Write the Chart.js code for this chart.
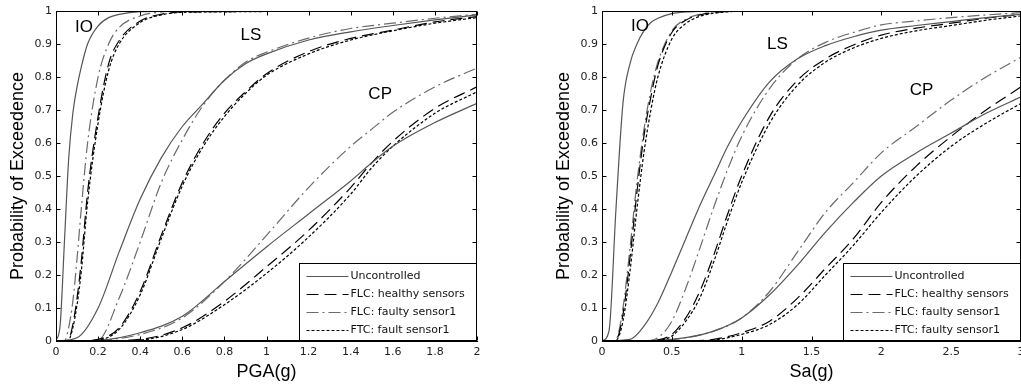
<!DOCTYPE html>
<html>
<head>
<meta charset="utf-8">
<script src="https://cdn.jsdelivr.net/npm/chart.js@4.4.1/dist/chart.umd.min.js"></script>
<style>
  html, body { margin: 0; padding: 0; background: #fff; overflow: hidden; }
  #wrap { position: relative; width: 1021px; height: 388px; overflow: hidden; }
  #pgaChart { position: absolute; left: 0; top: 0; }
  #saChart { position: absolute; left: 510px; top: 0; }
</style>
</head>
<body>
<div id="wrap">
  <canvas id="pgaChart" width="510" height="388"></canvas>
  <canvas id="saChart" width="530" height="388"></canvas>
</div>
<script>
// axis ticks
const probTicks = [0, 0.1, 0.2, 0.3, 0.4, 0.5, 0.6, 0.7, 0.8, 0.9, 1];
const pgaTicks = [0, 0.2, 0.4, 0.6, 0.8, 1, 1.2, 1.4, 1.6, 1.8, 2];
const saTicks = [0, 0.5, 1, 1.5, 2, 2.5, 3];

const pgaLegend = ["Uncontrolled", "FLC: healthy sensors", "FLC: faulty sensor1", "FTC: fault sensor1"];
const saLegend = ["Uncontrolled", "FLC: healthy sensors", "FLC: faulty sensor1", "FTC: faulty sensor1"];

const noteText = ["IO", "LS", "CP"];
const pgaNoteX = [0.133, 0.926, 1.54];
const pgaNoteY = [0.95, 0.927, 0.749];
const saNoteX = [0.272, 1.256, 2.288];
const saNoteY = [0.953, 0.9, 0.76];

// ---- PGA(g) fragility curves ----
const pgaIO = [0, 0.02, 0.04, 0.06, 0.08, 0.1, 0.12, 0.15, 0.2, 0.25, 0.3, 0.4, 0.5, 0.6, 2];
const pgaIOUnc = [0, 0.05, 0.3, 0.55, 0.69, 0.77, 0.83, 0.9, 0.955, 0.98, 0.99, 0.998, 0.999, 1, 1];
const pgaIOHealthy = [0, 0, 0, 0.005, 0.05, 0.13, 0.24, 0.45, 0.68, 0.84, 0.91, 0.97, 0.99, 0.997, 1];
const pgaIOFaulty = [0, 0, 0, 0.04, 0.12, 0.25, 0.4, 0.6, 0.8, 0.9, 0.95, 0.985, 0.997, 1, 1];
const pgaIOFtc = [0, 0, 0, 0.003, 0.04, 0.11, 0.21, 0.42, 0.66, 0.82, 0.9, 0.965, 0.988, 0.996, 1];

const pgaLS = [0, 0.1, 0.2, 0.3, 0.4, 0.5, 0.6, 0.7, 0.8, 0.9, 1, 1.2, 1.4, 1.6, 1.8, 2];
const pgaLSUnc = [0, 0.01, 0.1, 0.27, 0.43, 0.555, 0.65, 0.72, 0.79, 0.84, 0.87, 0.912, 0.937, 0.956, 0.973, 0.988];
const pgaLSHealthy = [0, 0, 0.005, 0.04, 0.15, 0.32, 0.48, 0.6, 0.69, 0.755, 0.81, 0.877, 0.917, 0.942, 0.967, 0.983];
const pgaLSFaulty = [0, 0, 0.003, 0.13, 0.3, 0.48, 0.61, 0.715, 0.79, 0.845, 0.875, 0.918, 0.947, 0.963, 0.978, 0.99];
const pgaLSFtc = [0, 0, 0.003, 0.035, 0.14, 0.31, 0.47, 0.59, 0.68, 0.75, 0.805, 0.87, 0.912, 0.94, 0.963, 0.98];

const pgaCP = [0, 0.2, 0.4, 0.6, 0.8, 1, 1.2, 1.4, 1.5, 1.6, 1.8, 2];
const pgaCPUnc = [0, 0.002, 0.025, 0.075, 0.18, 0.285, 0.385, 0.485, 0.54, 0.59, 0.662, 0.72];
const pgaCPHealthy = [0, 0, 0.005, 0.04, 0.12, 0.225, 0.335, 0.465, 0.54, 0.605, 0.705, 0.77];
const pgaCPFaulty = [0, 0.002, 0.02, 0.07, 0.18, 0.32, 0.465, 0.59, 0.642, 0.693, 0.77, 0.827];
const pgaCPFtc = [0, 0, 0.003, 0.035, 0.11, 0.205, 0.315, 0.445, 0.525, 0.59, 0.69, 0.755];

// ---- Sa(g) fragility curves ----
const saIO = [0, 0.05, 0.1, 0.15, 0.2, 0.25, 0.3, 0.35, 0.4, 0.5, 0.6, 0.7, 0.8, 1, 3];
const saIOUnc = [0, 0.03, 0.4, 0.72, 0.84, 0.9, 0.94, 0.965, 0.978, 0.992, 0.997, 0.999, 1, 1, 1];
const saIOHealthy = [0, 0, 0.003, 0.08, 0.25, 0.45, 0.62, 0.74, 0.835, 0.935, 0.972, 0.988, 0.995, 1, 1];
const saIOFaulty = [0, 0, 0.005, 0.1, 0.28, 0.48, 0.64, 0.76, 0.845, 0.94, 0.975, 0.99, 0.997, 1, 1];
const saIOFtc = [0, 0, 0.002, 0.06, 0.21, 0.4, 0.57, 0.7, 0.8, 0.915, 0.962, 0.984, 0.993, 0.999, 1];

const saLS = [0, 0.2, 0.3, 0.4, 0.5, 0.6, 0.7, 0.8, 0.9, 1, 1.2, 1.4, 1.6, 1.8, 2, 2.25, 2.5, 2.75, 3];
const saLSUnc = [0, 0.005, 0.045, 0.115, 0.21, 0.31, 0.41, 0.5, 0.59, 0.665, 0.785, 0.855, 0.895, 0.922, 0.942, 0.956, 0.968, 0.98, 0.99];
const saLSHealthy = [0, 0, 0, 0.003, 0.02, 0.07, 0.15, 0.26, 0.385, 0.5, 0.68, 0.79, 0.855, 0.897, 0.927, 0.948, 0.963, 0.978, 0.99];
const saLSFaulty = [0, 0, 0, 0.01, 0.06, 0.16, 0.28, 0.405, 0.52, 0.62, 0.765, 0.855, 0.905, 0.935, 0.958, 0.97, 0.98, 0.988, 0.995];
const saLSFtc = [0, 0, 0, 0.002, 0.015, 0.06, 0.13, 0.24, 0.365, 0.48, 0.66, 0.775, 0.845, 0.888, 0.917, 0.94, 0.956, 0.972, 0.985];

const saCP = [0, 0.4, 0.6, 0.8, 1, 1.2, 1.4, 1.6, 1.8, 2, 2.25, 2.5, 2.75, 3];
const saCPUnc = [0, 0.002, 0.01, 0.03, 0.07, 0.14, 0.23, 0.33, 0.42, 0.5, 0.57, 0.63, 0.69, 0.74];
const saCPHealthy = [0, 0, 0, 0.005, 0.025, 0.06, 0.13, 0.22, 0.31, 0.42, 0.53, 0.62, 0.7, 0.77];
const saCPFaulty = [0, 0.002, 0.01, 0.03, 0.07, 0.15, 0.27, 0.39, 0.48, 0.57, 0.65, 0.73, 0.8, 0.86];
const saCPFtc = [0, 0, 0, 0.003, 0.02, 0.05, 0.11, 0.2, 0.29, 0.39, 0.5, 0.59, 0.66, 0.72];

// line styles: uncontrolled, FLC healthy, FLC faulty, FTC
const lineColor = ['#555555', '#000000', '#6a6a6a', '#000000'];
const lineDash = [[], [12, 6], [12, 4, 2, 4], [3, 2]];

const tickFont = { family: 'DejaVu Sans', size: 11 };
const titleFont = '18px "Liberation Sans", Arial, sans-serif';

function curve(xs, ys, k) {
    return {
        data: xs.map((x, i) => ({ x: x, y: ys[i] })),
        borderColor: lineColor[k],
        borderDash: lineDash[k],
        borderWidth: 1.2,
        pointRadius: 0,
        fill: false,
        cubicInterpolationMode: 'monotone'
    };
}

function framePlugin(o) {
    return {
        id: 'frame',
        afterDraw(chart) {
            const ctx = chart.ctx;
            const ca = chart.chartArea;
            const xs = chart.scales.x, ys = chart.scales.y;
            const L = Math.round(ca.left) + 0.5, R = Math.round(ca.right) - 0.5;
            const T = Math.round(ca.top) + 0.5, B = Math.round(ca.bottom) - 0.5;
            ctx.save();
            ctx.strokeStyle = '#000';
            ctx.lineWidth = 1;
            ctx.setLineDash([]);
            ctx.strokeRect(L, T, R - L, B - T);

            // inward ticks on all four sides
            ctx.beginPath();
            o.xTicks.forEach(v => {
                const px = Math.round(xs.getPixelForValue(v)) + 0.5;
                ctx.moveTo(px, B); ctx.lineTo(px, B - 4);
                ctx.moveTo(px, T); ctx.lineTo(px, T + 4);
            });
            probTicks.forEach(v => {
                const py = Math.round(ys.getPixelForValue(v)) + 0.5;
                ctx.moveTo(L, py); ctx.lineTo(L + 4, py);
                ctx.moveTo(R, py); ctx.lineTo(R - 4, py);
            });
            ctx.stroke();

            // damage state labels
            ctx.fillStyle = '#000';
            ctx.font = '17px "Liberation Sans", Arial, sans-serif';
            ctx.textAlign = 'center';
            ctx.textBaseline = 'middle';
            noteText.forEach((t, i) => {
                ctx.fillText(t, xs.getPixelForValue(o.noteX[i]), ys.getPixelForValue(o.noteY[i]));
            });

            // axis titles
            ctx.font = titleFont;
            ctx.fillText(o.xTitle, (ca.left + ca.right) / 2, ca.bottom + 31);
            ctx.save();
            ctx.translate(ca.left - 38, (ca.top + ca.bottom) / 2);
            ctx.rotate(-Math.PI / 2);
            ctx.fillText('Probability of Exceedence', 0, 0);
            ctx.restore();

            // legend box
            const bw = 177, bh = 77;
            const x0 = Math.round(ca.right) - bw - 0.5, y0 = Math.round(ca.bottom) - bh - 0.5;
            ctx.fillStyle = '#fff';
            ctx.fillRect(x0, y0, bw, bh);
            ctx.strokeStyle = '#000';
            ctx.strokeRect(x0, y0, bw, bh);
            ctx.font = '11px "DejaVu Sans", sans-serif';
            ctx.textAlign = 'left';
            const rows = [12, 30, 48, 66];
            o.legend.forEach((t, k) => {
                const y = Math.round(y0 + rows[k]) + 0.5;
                ctx.beginPath();
                ctx.strokeStyle = lineColor[k];
                ctx.setLineDash(lineDash[k]);
                ctx.moveTo(x0 + 7, y);
                ctx.lineTo(x0 + 49, y);
                ctx.stroke();
                ctx.fillStyle = '#111';
                ctx.fillText(t, x0 + 51, y);
            });
            ctx.restore();
        }
    };
}

function makeChart(id, o) {
    const ctx = document.getElementById(id).getContext('2d');
    return new Chart(ctx, {
        type: 'line',
        data: { datasets: o.datasets },
        options: {
            responsive: false,
            animation: false,
            layout: { padding: { left: 0, top: 11, right: o.padRight, bottom: 0 } },
            plugins: { legend: { display: false }, tooltip: { enabled: false } },
            scales: {
                x: {
                    type: 'linear',
                    min: 0,
                    max: o.xMax,
                    afterBuildTicks: s => { s.ticks = o.xTicks.map(v => ({ value: v })); },
                    afterFit: s => { s.height = 47; },
                    ticks: { callback: v => String(v), font: tickFont, color: '#222', padding: 5, maxRotation: 0, autoSkip: false },
                    grid: { display: true, drawOnChartArea: false, drawTicks: false },
                    border: { color: '#000' }
                },
                y: {
                    type: 'linear',
                    min: 0,
                    max: 1,
                    afterBuildTicks: s => { s.ticks = probTicks.map(v => ({ value: v })); },
                    afterFit: s => { s.width = o.yWidth; },
                    ticks: { callback: v => String(v), font: tickFont, color: '#222', padding: 4, autoSkip: false },
                    grid: { display: true, drawOnChartArea: false, drawTicks: false },
                    border: { color: '#000' }
                }
            }
        },
        plugins: [framePlugin(o)]
    });
}

makeChart('pgaChart', {
    xMax: 2, xTicks: pgaTicks, padRight: 33, yWidth: 56, xTitle: 'PGA(g)',
    legend: pgaLegend, noteX: pgaNoteX, noteY: pgaNoteY,
    datasets: [
        curve(pgaIO, pgaIOUnc, 0), curve(pgaIO, pgaIOHealthy, 1), curve(pgaIO, pgaIOFaulty, 2), curve(pgaIO, pgaIOFtc, 3),
        curve(pgaLS, pgaLSUnc, 0), curve(pgaLS, pgaLSHealthy, 1), curve(pgaLS, pgaLSFaulty, 2), curve(pgaLS, pgaLSFtc, 3),
        curve(pgaCP, pgaCPUnc, 0), curve(pgaCP, pgaCPHealthy, 1), curve(pgaCP, pgaCPFaulty, 2), curve(pgaCP, pgaCPFtc, 3)
    ]
});

makeChart('saChart', {
    xMax: 3, xTicks: saTicks, padRight: 19, yWidth: 92, xTitle: 'Sa(g)',
    legend: saLegend, noteX: saNoteX, noteY: saNoteY,
    datasets: [
        curve(saIO, saIOUnc, 0), curve(saIO, saIOHealthy, 1), curve(saIO, saIOFaulty, 2), curve(saIO, saIOFtc, 3),
        curve(saLS, saLSUnc, 0), curve(saLS, saLSHealthy, 1), curve(saLS, saLSFaulty, 2), curve(saLS, saLSFtc, 3),
        curve(saCP, saCPUnc, 0), curve(saCP, saCPHealthy, 1), curve(saCP, saCPFaulty, 2), curve(saCP, saCPFtc, 3)
    ]
});
</script>
</body>
</html>
